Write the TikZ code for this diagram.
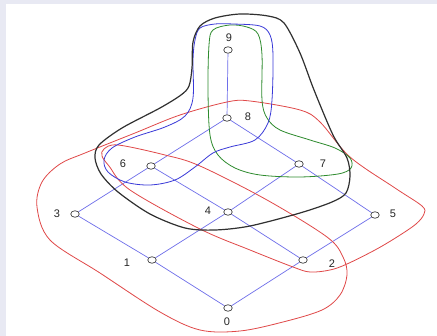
\documentclass[tikz,border=0pt]{standalone}
\usepackage{fontspec}
\setmainfont{Liberation Sans}
\usetikzlibrary{shapes.geometric,backgrounds}
\definecolor{bgborder}{HTML}{E8E9F3}
\definecolor{edgeblue}{HTML}{6E6EEA}
\definecolor{setblue}{HTML}{3A3AD8}
\definecolor{setgreen}{HTML}{2E8B2E}
\definecolor{setred}{HTML}{E04848}
\definecolor{setblack}{HTML}{303030}
\tikzset{
  vtx/.style={ellipse, draw=black!75, fill=white, line width=0.7pt, minimum width=8.5pt, minimum height=6.5pt, inner sep=0pt},
  lbl/.style={font=\fontsize{11}{13}\selectfont, text=black!85, inner sep=0pt},
  edge/.style={draw=edgeblue, line width=0.7pt},
  setcurve/.style={line width=0.8pt},
}
\begin{document}
\begin{tikzpicture}[x=1pt, y=-1pt]
\useasboundingbox (0,0) rectangle (437,336);

% vertices
\node[vtx] (n0) at (228,308) {};
\node[vtx] (n1) at (152,260) {};
\node[vtx] (n2) at (303,260) {};
\node[vtx] (n3) at (75,214) {};
\node[vtx] (n4) at (228,212) {};
\node[vtx] (n5) at (375,215) {};
\node[vtx] (n6) at (151,166) {};
\node[vtx] (n7) at (299,164) {};
\node[vtx] (n8) at (227,118) {};
\node[vtx] (n9) at (228,50) {};

\begin{pgfonlayer}{background}
\fill[bgborder] (0,0) rectangle (437,336);
\fill[white] (6,4) rectangle (437,336);

% edges
\draw[edge] (n0) -- (n1);
\draw[edge] (n0) -- (n2);
\draw[edge] (n1) -- (n3);
\draw[edge] (n1) -- (n4);
\draw[edge] (n2) -- (n4);
\draw[edge] (n2) -- (n5);
\draw[edge] (n3) -- (n6);
\draw[edge] (n4) -- (n6);
\draw[edge] (n4) -- (n7);
\draw[edge] (n5) -- (n7);
\draw[edge] (n6) -- (n8);
\draw[edge] (n7) -- (n8);
\draw[edge] (n8) -- (n9);

% red curve (self-crossing)
\draw[setcurve, setred] plot[smooth cycle, tension=0.55] coordinates {
 (104,149) (118,145) (165,155) (200,166) (267,200) (327,237) (343,257)
 (347,275) (340,295) (322,310) (283,322) (240,331) (200,330) (160,312)
 (100,273) (50,240) (37,207) (42,182) (60,164) (85,153) (135,133)
 (180,115) (227,102) (250,101) (300,110) (320,122) (350,157) (395,188)
 (422,206) (424,214) (416,224) (397,237) (375,250) (347,264) (330,270)
 (310,272) (293,267) (250,250) (200,229) (130,190) (109,166) (102,156)};

% green curve
\draw[setcurve, setgreen] plot[smooth cycle, tension=0.55] coordinates {
 (213,30) (230,25) (247,27) (258,34) (262,55) (262,100) (267,118) (280,130)
 (310,140) (335,148) (350,158) (351,168) (338,174) (300,177) (260,175)
 (235,168) (218,155) (210,135) (208,90) (209,45)};

% blue curve
\draw[setcurve, setblue] plot[smooth cycle, tension=0.55] coordinates {
 (200,28) (215,24) (233,24) (260,26) (270,35) (273,55) (272,100) (268,123)
 (255,140) (230,147) (213,153) (195,167) (175,180) (150,185) (125,182)
 (108,172) (104,160) (112,148) (135,137) (165,127) (185,116) (193,98)
 (193,60) (195,40)};

% black curve
\draw[setcurve, setblack, line width=1.2pt] plot[smooth cycle, tension=0.5] coordinates {
 (181,95) (189,86) (192,68) (193,42) (200,26) (215,18) (240,14) (268,16)
 (284,23) (300,53) (314,90) (333,135) (347,158) (350,176) (346,193)
 (332,202) (300,213) (250,226) (215,230) (185,228) (150,214) (118,192)
 (101,174) (95,158) (99,145) (122,128) (160,108)};
\end{pgfonlayer}

% labels
\node[lbl] (l0) at (227,322) {0};
\node[lbl] (l1) at (127,263) {1};
\node[lbl] (l2) at (332,264) {2};
\node[lbl] (l3) at (57,214) {3};
\node[lbl] (l4) at (208,211) {4};
\node[lbl] (l5) at (393,214) {5};
\node[lbl] (l6) at (123,164) {6};
\node[lbl] (l7) at (323,164) {7};
\node[lbl] (l8) at (248,117) {8};
\node[lbl] (l9) at (229,38) {9};
\end{tikzpicture}
\end{document}
